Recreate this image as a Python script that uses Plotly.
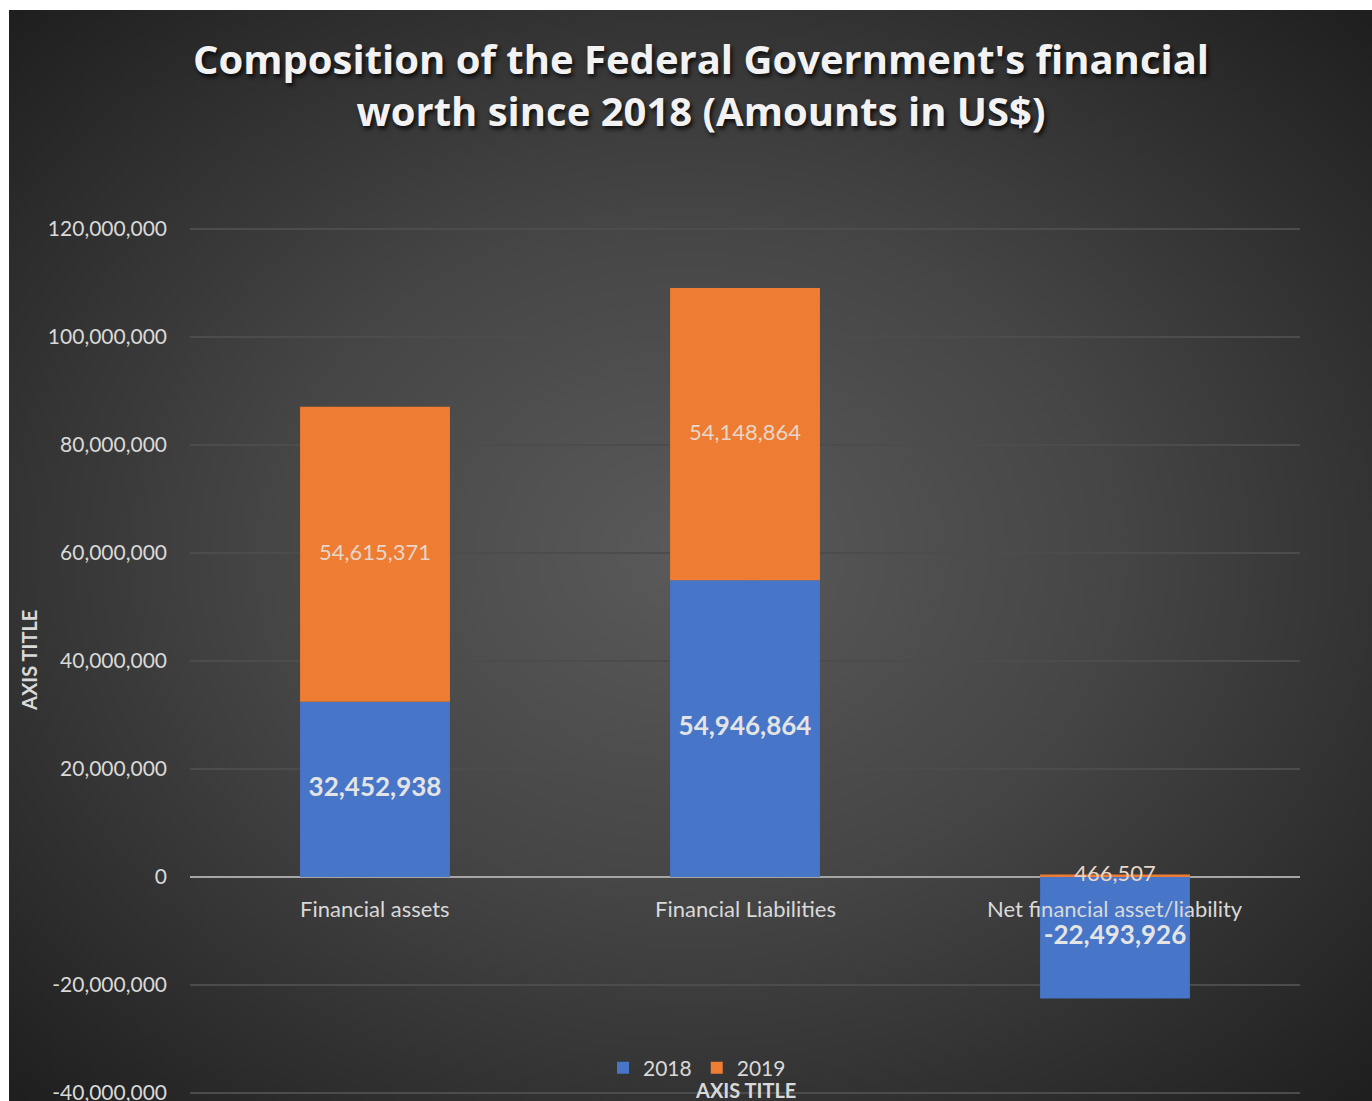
import base64
import plotly.graph_objects as go

categories = ["Financial assets", "Financial Liabilities", "Net financial asset/liability"]
series_names = ["2018", "2019"]
values_2018 = [32452938, 54946864, -22493926]
values_2019 = [54615371, 54148864, 466507]
tick_values = [-40000000, -20000000, 0, 20000000, 40000000, 60000000, 80000000, 100000000, 120000000]
tick_labels = [f"{v:,}" for v in tick_values]

title_text = "Composition of the Federal Government's financial<br>worth since 2018 (Amounts in US$)"
axis_title = "AXIS TITLE"

W, H = 1372, 1101
ML, MR, MT, MB = 190, 72, 227, 6
PW, PH = W - ML - MR, H - MT - MB
Y_LO, Y_HI = -40370000, 120370000


def py(pixel_y):
    """convert a page pixel row to paper coordinate"""
    return (H - MB - pixel_y) / PH


def px(pixel_x):
    return (pixel_x - ML) / PW


# radial gradient background as an svg image
svg = (
    '<svg xmlns="http://www.w3.org/2000/svg" width="1363" height="1091" preserveAspectRatio="none">'
    '<defs><radialGradient id="g" cx="50%" cy="50%" r="70%">'
    '<stop offset="0%" stop-color="#5a5a5a"/>'
    '<stop offset="45%" stop-color="#454545"/>'
    '<stop offset="100%" stop-color="#1f1f1f"/>'
    '</radialGradient></defs>'
    '<rect width="1363" height="1091" fill="url(#g)"/></svg>'
)
svg_uri = "data:image/svg+xml;base64," + base64.b64encode(svg.encode()).decode()

blue = "#4775C8"
orange = "#EE7D33"

fig = go.Figure()
fig.add_trace(go.Bar(name=series_names[0], x=categories, y=values_2018, marker_color=blue,
                     marker_line_width=0, width=0.405))
fig.add_trace(go.Bar(name=series_names[1], x=categories, y=values_2019, marker_color=orange,
                     marker_line_width=0, width=0.405))

# labels: center of each stacked segment (relative stacking)
pos_2018 = [v / 2 for v in values_2018]
pos_2019 = []
for a, b in zip(values_2018, values_2019):
    base = a if (a >= 0 and b >= 0) else (a if (a < 0 and b < 0) else 0)
    pos_2019.append(base + b / 2)

fig.add_trace(go.Scatter(x=categories, y=pos_2018, mode="text",
                         text=[f"{v:,}" for v in values_2018],
                         textfont=dict(family="Lato", size=26, color="#e4e4e4", weight="bold"),
                         showlegend=False, hoverinfo="skip"))
fig.add_trace(go.Scatter(x=categories, y=pos_2019, mode="text",
                         text=[f"{v:,}" for v in values_2019],
                         textfont=dict(family="Lato", size=22, color="#e8d6c8"),
                         showlegend=False, hoverinfo="skip"))

# category labels just below the zero line
for c in categories:
    fig.add_annotation(x=c, y=0, xref="x", yref="y", text=c, showarrow=False,
                       yanchor="middle", yshift=-31,
                       font=dict(family="Lato", size=22, color="#d9d9d9"))

# axis titles
fig.add_annotation(x=0.5, y=py(1090), xref="paper", yref="paper", text=axis_title,
                   showarrow=False, yanchor="middle",
                   font=dict(family="Lato", size=20, color="#d9d9d9", weight="bold"))
fig.add_annotation(x=px(29), y=py(661), xref="paper", yref="paper", text=axis_title,
                   showarrow=False, textangle=-90, xanchor="center", yanchor="middle",
                   font=dict(family="Lato", size=20, color="#d9d9d9", weight="bold"))

fig.update_layout(
    width=W, height=H,
    margin=dict(l=ML, r=MR, t=MT, b=MB, autoexpand=False),
    paper_bgcolor="white",
    plot_bgcolor="rgba(0,0,0,0)",
    barmode="relative",
    title=dict(text=title_text, x=701 / W, y=1 - 74 / H, xref="container", yref="container",
               xanchor="center", yanchor="middle",
               font=dict(family="Open Sans", size=40, color="#f2f2f2", weight="bold",
                         shadow="2px 3px 4px rgba(0,0,0,0.8)")),
    legend=dict(orientation="h", x=px(697), xanchor="center", y=py(1068), yanchor="middle",
                font=dict(family="Lato", size=21, color="#d9d9d9"), bgcolor="rgba(0,0,0,0)",
                itemwidth=30, traceorder="normal"),
    images=[dict(source=svg_uri, xref="paper", yref="paper",
                 x=px(9), y=py(10),
                 sizex=(W - 9) / PW, sizey=(H - 10) / PH,
                 xanchor="left", yanchor="top", sizing="stretch", layer="below")],
    xaxis=dict(showticklabels=False, showgrid=False, zeroline=False, showline=False, ticks="",
               automargin=False),
    yaxis=dict(range=[Y_LO, Y_HI], tickmode="array", tickvals=tick_values, ticktext=tick_labels,
               tickfont=dict(family="Lato", size=21, color="#d9d9d9"),
               showgrid=True, gridcolor="#4c4c4c", gridwidth=2,
               zeroline=True, zerolinecolor="#a6a6a6", zerolinewidth=2,
               ticklabelstandoff=22, ticklabeloverflow="allow", showline=False,
               automargin=False),
    showlegend=True,
)

fig.write_html("out.html")
